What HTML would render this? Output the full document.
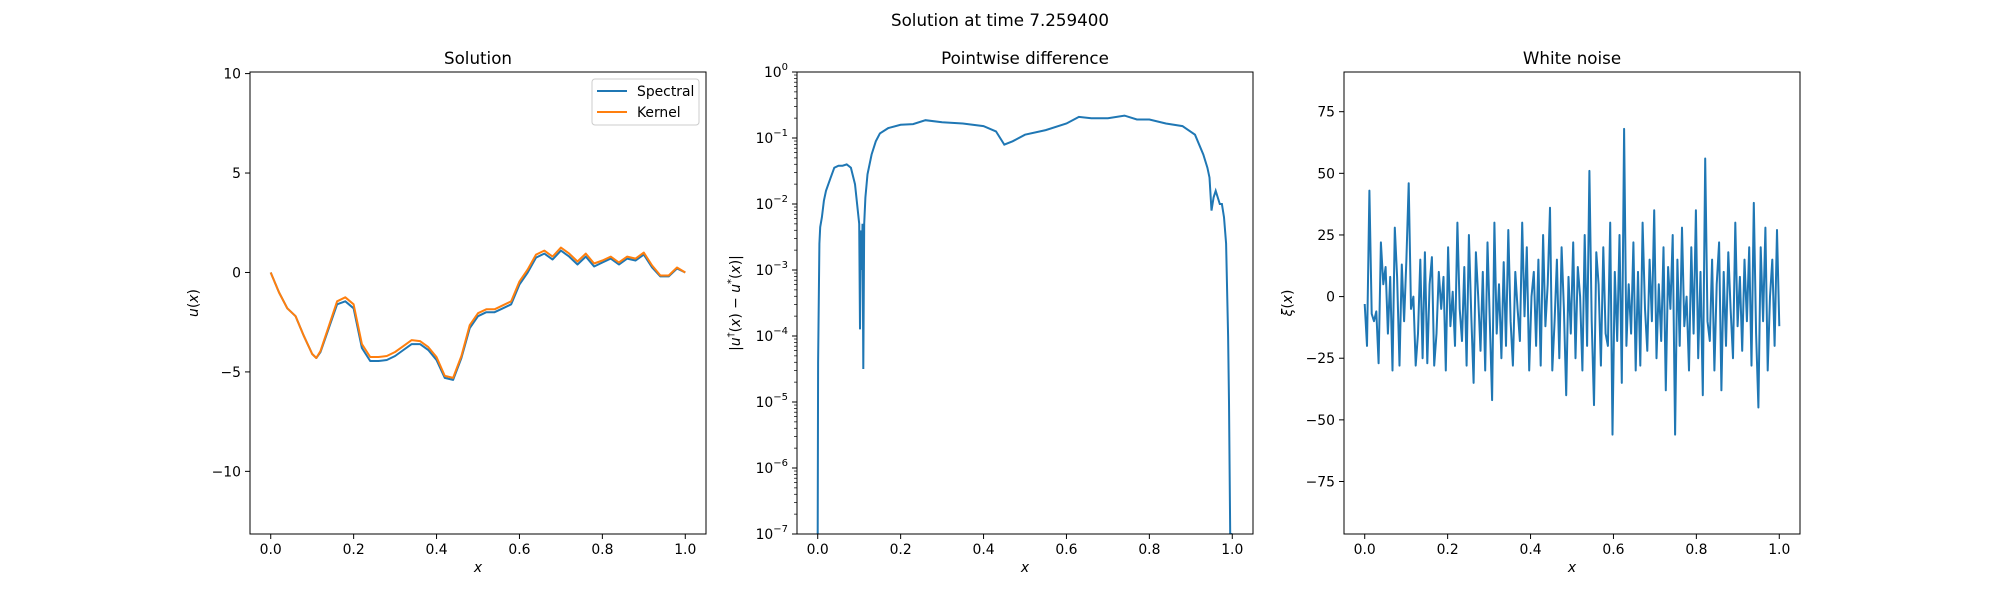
<!DOCTYPE html>
<html><head><meta charset="utf-8"><style>
body{margin:0;background:#fff;font-family:"Liberation Sans","DejaVu Sans",sans-serif}
svg text{font-family:"DejaVu Sans","Liberation Sans",sans-serif;fill:#000}
</style></head><body>
<svg id="fig" width="2000" height="600" xmlns="http://www.w3.org/2000/svg">
<rect width="2000" height="600" fill="#fff"/>
<text x="1000" y="26" font-size="16.7" text-anchor="middle">Solution at time 7.259400</text>
</svg>
<script>
const solX=[0,0.02,0.04,0.06,0.08,0.1,0.11,0.12,0.14,0.16,0.18,0.2,0.22,0.24,0.26,0.28,0.3,0.32,0.34,0.36,0.38,0.4,0.42,0.44,0.46,0.48,0.5,0.52,0.54,0.56,0.58,0.6,0.62,0.64,0.66,0.68,0.7,0.72,0.74,0.76,0.78,0.8,0.82,0.84,0.86,0.88,0.9,0.92,0.94,0.96,0.98,1.0];
const spectral=[0,-1.0,-1.8,-2.2,-3.2,-4.1,-4.3,-4.0,-2.8,-1.6,-1.45,-1.8,-3.8,-4.45,-4.45,-4.4,-4.2,-3.9,-3.6,-3.6,-3.9,-4.4,-5.3,-5.4,-4.3,-2.8,-2.2,-2.0,-2.0,-1.8,-1.6,-0.6,0.0,0.75,0.95,0.65,1.1,0.8,0.4,0.8,0.3,0.5,0.7,0.4,0.7,0.6,0.9,0.25,-0.2,-0.2,0.2,0.0];
const kernel=[0,-1.0,-1.8,-2.2,-3.2,-4.1,-4.3,-3.95,-2.7,-1.45,-1.25,-1.6,-3.6,-4.25,-4.25,-4.2,-4.0,-3.7,-3.4,-3.45,-3.75,-4.25,-5.2,-5.3,-4.2,-2.65,-2.05,-1.85,-1.85,-1.65,-1.45,-0.45,0.15,0.9,1.1,0.8,1.25,0.95,0.55,0.95,0.45,0.6,0.8,0.5,0.8,0.7,1.0,0.35,-0.15,-0.15,0.25,0.0];
const diffX=[0,0.001,0.004,0.006,0.01,0.015,0.02,0.03,0.04,0.05,0.06,0.07,0.08,0.09,0.095,0.1,0.102,0.104,0.106,0.108,0.11,0.112,0.115,0.12,0.13,0.14,0.15,0.17,0.2,0.23,0.26,0.3,0.35,0.4,0.43,0.45,0.47,0.5,0.55,0.6,0.63,0.66,0.7,0.74,0.77,0.8,0.84,0.88,0.91,0.93,0.94,0.945,0.95,0.955,0.96,0.97,0.975,0.98,0.985,0.99,0.992,0.995,0.998,1.0];
const diffLog=[-7,-4.4,-2.6,-2.35,-2.2,-1.95,-1.8,-1.62,-1.45,-1.42,-1.42,-1.4,-1.45,-1.7,-2.0,-2.3,-3.9,-2.4,-3.0,-2.3,-4.5,-2.3,-1.9,-1.55,-1.25,-1.05,-0.93,-0.85,-0.8,-0.79,-0.73,-0.76,-0.78,-0.82,-0.9,-1.1,-1.05,-0.95,-0.88,-0.78,-0.68,-0.7,-0.7,-0.66,-0.72,-0.72,-0.78,-0.82,-0.95,-1.25,-1.45,-1.6,-2.1,-1.9,-1.8,-2.0,-2.0,-2.2,-2.6,-4.0,-5.0,-7,-7,-7];
const noise=[-3,-20,43,-7,-10,-6,-27,22,5,12,-15,8,-30,28,8,-28,13,-10,15,46,-5,0,-28,-15,15,-25,18,-27,5,16,-28,-15,10,-5,8,-30,20,-12,2,-20,30,-5,-18,12,-28,25,-8,-35,18,0,-22,10,-30,22,-10,-42,30,-15,5,-25,14,-20,27,-10,-28,10,-5,-18,30,-8,20,-30,0,10,-20,15,-28,25,-12,5,36,-30,-10,15,-25,20,-5,-40,8,-15,22,-25,12,0,-30,25,-20,51,-10,-44,18,5,-28,20,-15,-20,30,-56,10,-18,25,-35,68,-20,5,-15,22,-30,10,-28,30,-5,-22,15,-10,35,-25,5,-18,20,-38,12,-5,25,-56,15,-20,28,-12,0,-30,20,-15,35,-25,10,-40,56,-10,-18,15,-30,5,22,-38,10,-20,18,-5,-25,30,-12,8,-22,15,-10,20,-28,38,-15,-45,20,-10,28,-30,0,15,-20,27,-12];
const noiseX=noise.map((v,i)=>i/(noise.length-1));

const svg=document.getElementById('fig');
const NS='http://www.w3.org/2000/svg';
function el(tag,attrs,parent){const e=document.createElementNS(NS,tag);for(const k in attrs)e.setAttribute(k,attrs[k]);(parent||svg).appendChild(e);return e;}
const T=72,B=534,xmin=-0.05,xmax=1.05;
function mkX(L){return x=>L+(x-xmin)/(xmax-xmin)*456;}
function frame(L,name){const r=el('rect',{x:L,y:T,width:456,height:B-T,fill:'none',stroke:'#000','stroke-width':1});

}
function xticks(L,sx,name){[0,0.2,0.4,0.6,0.8,1.0].forEach(v=>{const x=sx(v);el('line',{x1:x,x2:x,y1:B,y2:B+5,stroke:'#000'});
const t=el('text',{x:x,y:B+20,'font-size':13.9,'text-anchor':'middle'});t.textContent=v.toFixed(1);

});
const t=el('text',{x:L+228,y:B+38,'font-size':13.9,'text-anchor':'middle','font-style':'italic'});t.textContent='x';

}
function title(L,s,name){const t=el('text',{x:L+228,y:T-8,'font-size':16.7,'text-anchor':'middle'});t.textContent=s;

}
function yticksLin(L,sy,vals,name){vals.forEach(v=>{const y=sy(v);el('line',{x1:L-5,x2:L,y1:y,y2:y,stroke:'#000'});
const t=el('text',{x:L-9,y:y+5,'font-size':13.9,'text-anchor':'end'});t.textContent=(v<0?'\u2212':'')+Math.abs(v);

});}
function ylabel(x,y,html,name){const t=el('text',{x:x,y:y,'font-size':13.9,'text-anchor':'middle',transform:`rotate(-90 ${x} ${y})`});t.innerHTML=html;

}
function line(xs,ys,sx,sy,color,name){const p=el('path',{d:xs.map((x,i)=>(i?'L':'M')+sx(x).toFixed(1)+','+sy(ys[i]).toFixed(1)).join(''),fill:'none',stroke:color,'stroke-width':2,'stroke-linejoin':'round'});

}

// Panel 1
const L1=250,sx1=mkX(L1),sy1=v=>T+(10.08-v)/(10.08+13.15)*(B-T);
title(L1,'Solution','solution');
line(solX,spectral,sx1,sy1,'#1f77b4','spectral-line');
line(solX,kernel,sx1,sy1,'#ff7f0e','kernel-line');
frame(L1,'solution');xticks(L1,sx1,'solution');yticksLin(L1,sy1,[10,5,0,-5,-10],'solution');
ylabel(L1-52,303,'<tspan font-style="italic">u</tspan>(<tspan font-style="italic">x</tspan>)','solution');
const lg=el('g',{});
el('rect',{x:592,y:79,width:107,height:46,rx:3,fill:'#fff',stroke:'#ccc'},lg);
el('line',{x1:597,x2:627,y1:91,y2:91,stroke:'#1f77b4','stroke-width':2},lg);
el('line',{x1:597,x2:627,y1:112,y2:112,stroke:'#ff7f0e','stroke-width':2},lg);
let t=el('text',{x:637,y:96,'font-size':13.9},lg);t.textContent='Spectral';

t=el('text',{x:637,y:117,'font-size':13.9},lg);t.textContent='Kernel';


// Panel 2
const L2=797,sx2=mkX(L2),sy2=v=>T+(0-v)/7*(B-T);
title(L2,'Pointwise difference','difference');
const cp=el('clipPath',{id:'c2'});el('rect',{x:L2,y:T,width:456,height:B-T},cp);
const g2=el('g',{'clip-path':'url(#c2)'});
const p2=el('path',{d:diffX.map((x,i)=>(i?'L':'M')+sx2(x).toFixed(1)+','+sy2(diffLog[i]).toFixed(1)).join(''),fill:'none',stroke:'#1f77b4','stroke-width':2},g2);

frame(L2,'difference');xticks(L2,sx2,'difference');
for(let d=0;d>=-7;d--){const y=sy2(d);el('line',{x1:L2-5,x2:L2,y1:y,y2:y,stroke:'#000'});
const tt=el('text',{x:L2-9,y:y+5,'font-size':13.9,'text-anchor':'end'});tt.innerHTML='10<tspan dy="-7" font-size="10">'+(d<0?'\u2212'+(-d):'0')+'</tspan>';

if(d>-7)for(let m=2;m<10;m++){const ym=sy2(d-1+Math.log10(m));el('line',{x1:L2-3,x2:L2,y1:ym,y2:ym,stroke:'#000','stroke-width':0.7});}}
ylabel(L2-57,303,'|<tspan font-style="italic">u</tspan><tspan dy="-6" font-size="10">†</tspan><tspan dy="6">(</tspan><tspan font-style="italic">x</tspan>) − <tspan font-style="italic">u</tspan><tspan dy="-6" font-size="10">*</tspan><tspan dy="6">(</tspan><tspan font-style="italic">x</tspan>)|','difference');

// Panel 3
const L3=1344,sx3=mkX(L3),sy3=v=>T+(91.1-v)/(91.1+96.3)*(B-T);
title(L3,'White noise','noise');
line(noiseX,noise,sx3,sy3,'#1f77b4','noise-line');
frame(L3,'noise');xticks(L3,sx3,'noise');yticksLin(L3,sy3,[75,50,25,0,-25,-50,-75],'noise');
ylabel(L3-52,303,'<tspan font-style="italic">ξ</tspan>(<tspan font-style="italic">x</tspan>)','noise');
</script>
</body></html>
